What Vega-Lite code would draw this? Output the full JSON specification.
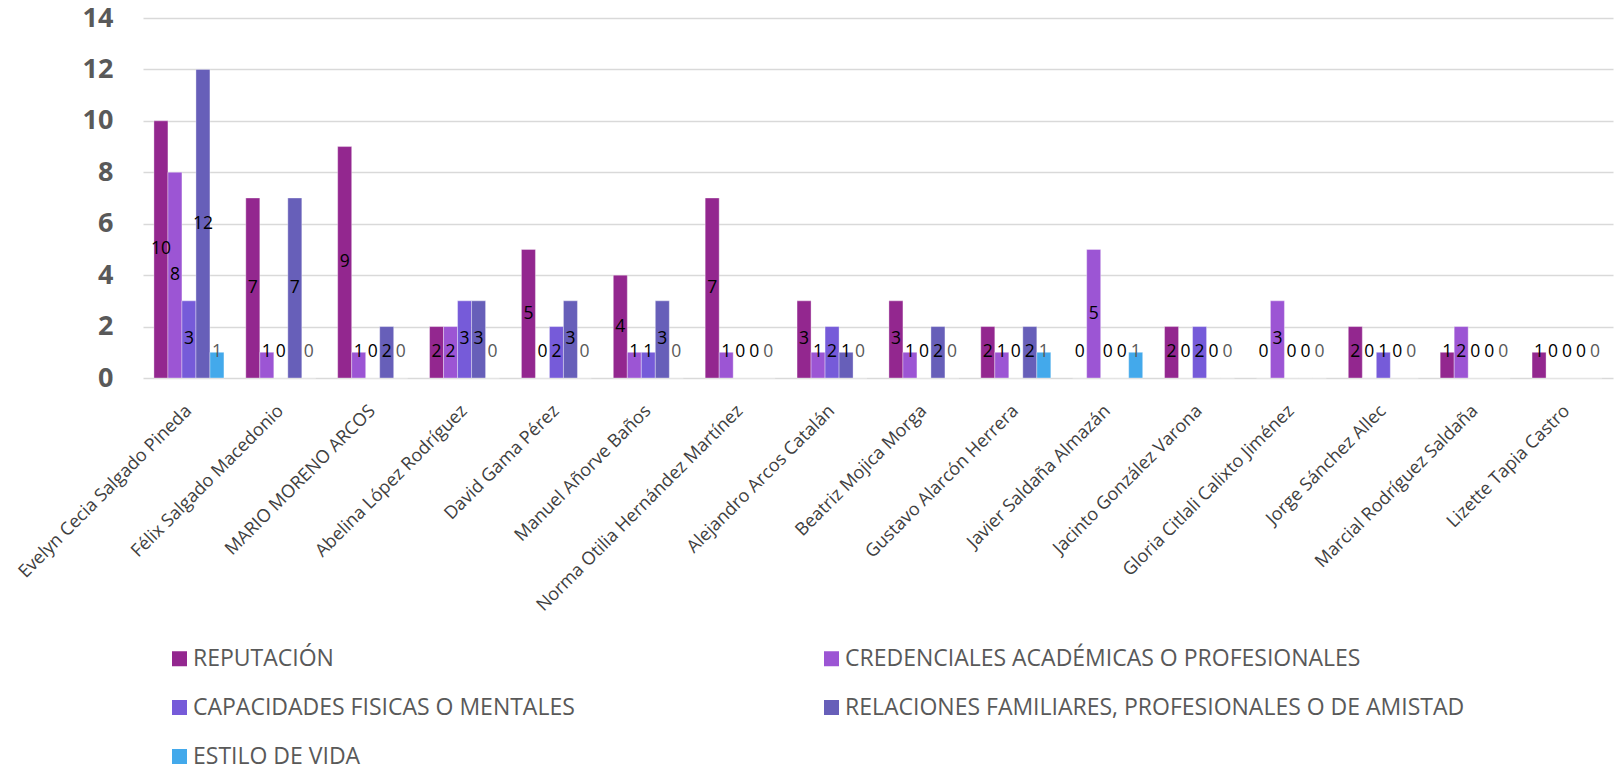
{
  "$schema": "https://vega.github.io/schema/vega-lite/v6.json",
  "width": 1470,
  "height": 360,
  "autosize": {"type": "none"},
  "padding": {"left": 143, "top": 18, "right": 5, "bottom": 388},
  "background": "#ffffff",
  "config": {
    "view": {"stroke": null},
    "font": "Open Sans",
    "legend": {"padding": 0}
  },
  "data": {
    "values": [
      {"name": "Evelyn Cecia Salgado Pineda", "cat": "REPUTACIÓN", "value": 10},
      {"name": "Evelyn Cecia Salgado Pineda", "cat": "CREDENCIALES ACADÉMICAS O PROFESIONALES", "value": 8},
      {"name": "Evelyn Cecia Salgado Pineda", "cat": "CAPACIDADES FISICAS O MENTALES", "value": 3},
      {"name": "Evelyn Cecia Salgado Pineda", "cat": "RELACIONES FAMILIARES, PROFESIONALES O DE AMISTAD", "value": 12},
      {"name": "Evelyn Cecia Salgado Pineda", "cat": "ESTILO DE VIDA", "value": 1},
      {"name": "Félix Salgado Macedonio", "cat": "REPUTACIÓN", "value": 7},
      {"name": "Félix Salgado Macedonio", "cat": "CREDENCIALES ACADÉMICAS O PROFESIONALES", "value": 1},
      {"name": "Félix Salgado Macedonio", "cat": "CAPACIDADES FISICAS O MENTALES", "value": 0},
      {"name": "Félix Salgado Macedonio", "cat": "RELACIONES FAMILIARES, PROFESIONALES O DE AMISTAD", "value": 7},
      {"name": "Félix Salgado Macedonio", "cat": "ESTILO DE VIDA", "value": 0},
      {"name": "MARIO MORENO ARCOS", "cat": "REPUTACIÓN", "value": 9},
      {"name": "MARIO MORENO ARCOS", "cat": "CREDENCIALES ACADÉMICAS O PROFESIONALES", "value": 1},
      {"name": "MARIO MORENO ARCOS", "cat": "CAPACIDADES FISICAS O MENTALES", "value": 0},
      {"name": "MARIO MORENO ARCOS", "cat": "RELACIONES FAMILIARES, PROFESIONALES O DE AMISTAD", "value": 2},
      {"name": "MARIO MORENO ARCOS", "cat": "ESTILO DE VIDA", "value": 0},
      {"name": "Abelina López Rodríguez", "cat": "REPUTACIÓN", "value": 2},
      {"name": "Abelina López Rodríguez", "cat": "CREDENCIALES ACADÉMICAS O PROFESIONALES", "value": 2},
      {"name": "Abelina López Rodríguez", "cat": "CAPACIDADES FISICAS O MENTALES", "value": 3},
      {"name": "Abelina López Rodríguez", "cat": "RELACIONES FAMILIARES, PROFESIONALES O DE AMISTAD", "value": 3},
      {"name": "Abelina López Rodríguez", "cat": "ESTILO DE VIDA", "value": 0},
      {"name": "David Gama Pérez", "cat": "REPUTACIÓN", "value": 5},
      {"name": "David Gama Pérez", "cat": "CREDENCIALES ACADÉMICAS O PROFESIONALES", "value": 0},
      {"name": "David Gama Pérez", "cat": "CAPACIDADES FISICAS O MENTALES", "value": 2},
      {"name": "David Gama Pérez", "cat": "RELACIONES FAMILIARES, PROFESIONALES O DE AMISTAD", "value": 3},
      {"name": "David Gama Pérez", "cat": "ESTILO DE VIDA", "value": 0},
      {"name": "Manuel Añorve Baños", "cat": "REPUTACIÓN", "value": 4},
      {"name": "Manuel Añorve Baños", "cat": "CREDENCIALES ACADÉMICAS O PROFESIONALES", "value": 1},
      {"name": "Manuel Añorve Baños", "cat": "CAPACIDADES FISICAS O MENTALES", "value": 1},
      {"name": "Manuel Añorve Baños", "cat": "RELACIONES FAMILIARES, PROFESIONALES O DE AMISTAD", "value": 3},
      {"name": "Manuel Añorve Baños", "cat": "ESTILO DE VIDA", "value": 0},
      {"name": "Norma Otilia Hernández Martínez", "cat": "REPUTACIÓN", "value": 7},
      {"name": "Norma Otilia Hernández Martínez", "cat": "CREDENCIALES ACADÉMICAS O PROFESIONALES", "value": 1},
      {"name": "Norma Otilia Hernández Martínez", "cat": "CAPACIDADES FISICAS O MENTALES", "value": 0},
      {"name": "Norma Otilia Hernández Martínez", "cat": "RELACIONES FAMILIARES, PROFESIONALES O DE AMISTAD", "value": 0},
      {"name": "Norma Otilia Hernández Martínez", "cat": "ESTILO DE VIDA", "value": 0},
      {"name": "Alejandro Arcos Catalán", "cat": "REPUTACIÓN", "value": 3},
      {"name": "Alejandro Arcos Catalán", "cat": "CREDENCIALES ACADÉMICAS O PROFESIONALES", "value": 1},
      {"name": "Alejandro Arcos Catalán", "cat": "CAPACIDADES FISICAS O MENTALES", "value": 2},
      {"name": "Alejandro Arcos Catalán", "cat": "RELACIONES FAMILIARES, PROFESIONALES O DE AMISTAD", "value": 1},
      {"name": "Alejandro Arcos Catalán", "cat": "ESTILO DE VIDA", "value": 0},
      {"name": "Beatriz Mojica Morga", "cat": "REPUTACIÓN", "value": 3},
      {"name": "Beatriz Mojica Morga", "cat": "CREDENCIALES ACADÉMICAS O PROFESIONALES", "value": 1},
      {"name": "Beatriz Mojica Morga", "cat": "CAPACIDADES FISICAS O MENTALES", "value": 0},
      {"name": "Beatriz Mojica Morga", "cat": "RELACIONES FAMILIARES, PROFESIONALES O DE AMISTAD", "value": 2},
      {"name": "Beatriz Mojica Morga", "cat": "ESTILO DE VIDA", "value": 0},
      {"name": "Gustavo Alarcón Herrera", "cat": "REPUTACIÓN", "value": 2},
      {"name": "Gustavo Alarcón Herrera", "cat": "CREDENCIALES ACADÉMICAS O PROFESIONALES", "value": 1},
      {"name": "Gustavo Alarcón Herrera", "cat": "CAPACIDADES FISICAS O MENTALES", "value": 0},
      {"name": "Gustavo Alarcón Herrera", "cat": "RELACIONES FAMILIARES, PROFESIONALES O DE AMISTAD", "value": 2},
      {"name": "Gustavo Alarcón Herrera", "cat": "ESTILO DE VIDA", "value": 1},
      {"name": "Javier Saldaña Almazán", "cat": "REPUTACIÓN", "value": 0},
      {"name": "Javier Saldaña Almazán", "cat": "CREDENCIALES ACADÉMICAS O PROFESIONALES", "value": 5},
      {"name": "Javier Saldaña Almazán", "cat": "CAPACIDADES FISICAS O MENTALES", "value": 0},
      {"name": "Javier Saldaña Almazán", "cat": "RELACIONES FAMILIARES, PROFESIONALES O DE AMISTAD", "value": 0},
      {"name": "Javier Saldaña Almazán", "cat": "ESTILO DE VIDA", "value": 1},
      {"name": "Jacinto González Varona", "cat": "REPUTACIÓN", "value": 2},
      {"name": "Jacinto González Varona", "cat": "CREDENCIALES ACADÉMICAS O PROFESIONALES", "value": 0},
      {"name": "Jacinto González Varona", "cat": "CAPACIDADES FISICAS O MENTALES", "value": 2},
      {"name": "Jacinto González Varona", "cat": "RELACIONES FAMILIARES, PROFESIONALES O DE AMISTAD", "value": 0},
      {"name": "Jacinto González Varona", "cat": "ESTILO DE VIDA", "value": 0},
      {"name": "Gloria Citlali Calixto Jiménez", "cat": "REPUTACIÓN", "value": 0},
      {"name": "Gloria Citlali Calixto Jiménez", "cat": "CREDENCIALES ACADÉMICAS O PROFESIONALES", "value": 3},
      {"name": "Gloria Citlali Calixto Jiménez", "cat": "CAPACIDADES FISICAS O MENTALES", "value": 0},
      {"name": "Gloria Citlali Calixto Jiménez", "cat": "RELACIONES FAMILIARES, PROFESIONALES O DE AMISTAD", "value": 0},
      {"name": "Gloria Citlali Calixto Jiménez", "cat": "ESTILO DE VIDA", "value": 0},
      {"name": "Jorge Sánchez Allec", "cat": "REPUTACIÓN", "value": 2},
      {"name": "Jorge Sánchez Allec", "cat": "CREDENCIALES ACADÉMICAS O PROFESIONALES", "value": 0},
      {"name": "Jorge Sánchez Allec", "cat": "CAPACIDADES FISICAS O MENTALES", "value": 1},
      {"name": "Jorge Sánchez Allec", "cat": "RELACIONES FAMILIARES, PROFESIONALES O DE AMISTAD", "value": 0},
      {"name": "Jorge Sánchez Allec", "cat": "ESTILO DE VIDA", "value": 0},
      {"name": "Marcial Rodríguez Saldaña", "cat": "REPUTACIÓN", "value": 1},
      {"name": "Marcial Rodríguez Saldaña", "cat": "CREDENCIALES ACADÉMICAS O PROFESIONALES", "value": 2},
      {"name": "Marcial Rodríguez Saldaña", "cat": "CAPACIDADES FISICAS O MENTALES", "value": 0},
      {"name": "Marcial Rodríguez Saldaña", "cat": "RELACIONES FAMILIARES, PROFESIONALES O DE AMISTAD", "value": 0},
      {"name": "Marcial Rodríguez Saldaña", "cat": "ESTILO DE VIDA", "value": 0},
      {"name": "Lizette Tapia Castro", "cat": "REPUTACIÓN", "value": 1},
      {"name": "Lizette Tapia Castro", "cat": "CREDENCIALES ACADÉMICAS O PROFESIONALES", "value": 0},
      {"name": "Lizette Tapia Castro", "cat": "CAPACIDADES FISICAS O MENTALES", "value": 0},
      {"name": "Lizette Tapia Castro", "cat": "RELACIONES FAMILIARES, PROFESIONALES O DE AMISTAD", "value": 0},
      {"name": "Lizette Tapia Castro", "cat": "ESTILO DE VIDA", "value": 0}
    ]
  },
  "encoding": {
    "x": {
      "field": "name",
      "type": "nominal",
      "sort": null,
      "scale": {"paddingInner": 0.238, "paddingOuter": 0.119},
      "axis": {
        "title": null,
        "labelAngle": -45,
        "labelAlign": "right",
        "labelBaseline": "middle",
        "labelFont": "Open Sans",
        "labelFontSize": 18,
        "labelColor": "#404040",
        "labelPadding": 30,
        "labelLimit": 400,
        "ticks": false,
        "domain": false
      }
    },
    "xOffset": {
      "field": "cat",
      "type": "nominal",
      "sort": null,
      "scale": {"paddingInner": 0, "paddingOuter": 0}
    }
  },
  "layer": [
    {
      "mark": {"type": "bar", "stroke": "#ffffff", "strokeOpacity": 0.35, "strokeWidth": 1},
      "encoding": {
        "y": {
          "field": "value",
          "type": "quantitative",
          "scale": {"domain": [0, 14], "nice": false},
          "axis": {
            "title": null,
            "values": [0, 2, 4, 6, 8, 10, 12, 14],
            "domain": false,
            "ticks": false,
            "labelPadding": 30,
            "labelFont": "Open Sans",
            "labelFontWeight": "bold",
            "labelFontSize": 27,
            "labelColor": "#595959",
            "gridColor": "#d9d9d9",
            "gridWidth": 1.5
          }
        },
        "color": {
          "field": "cat",
          "type": "nominal",
          "sort": null,
          "scale": {
            "domain": [
              "REPUTACIÓN",
              "CREDENCIALES ACADÉMICAS O PROFESIONALES",
              "CAPACIDADES FISICAS O MENTALES",
              "RELACIONES FAMILIARES, PROFESIONALES O DE AMISTAD",
              "ESTILO DE VIDA"
            ],
            "range": ["#93278f", "#9c55d4", "#765bd9", "#675fb9", "#43a9eb"]
          },
          "legend": {
            "title": null,
            "orient": "none",
            "legendX": 25,
            "legendY": 629,
            "direction": "horizontal",
            "columns": 2,
            "symbolType": "square",
            "symbolSize": 225,
            "symbolStrokeWidth": 0,
            "labelFont": "Open Sans",
            "labelFontSize": 23,
            "labelColor": "#595959",
            "labelOffset": 2,
            "labelLimit": 800,
            "columnPadding": 245,
            "rowPadding": 25
          }
        }
      }
    },
    {
      "mark": {"type": "text", "baseline": "middle", "align": "center", "font": "Open Sans", "fontSize": 17.5},
      "encoding": {
        "y": {
          "field": "value",
          "type": "quantitative",
          "scale": {"domain": [2, 28], "range": [334.2857, 0], "clamp": true, "nice": false, "zero": false},
          "axis": null
        },
        "text": {"field": "value", "type": "quantitative"},
        "color": {
          "condition": {"test": "datum.cat === 'ESTILO DE VIDA'", "value": "#595959"},
          "value": "#000000"
        }
      }
    }
  ],
  "resolve": {"scale": {"y": "independent"}}
}
